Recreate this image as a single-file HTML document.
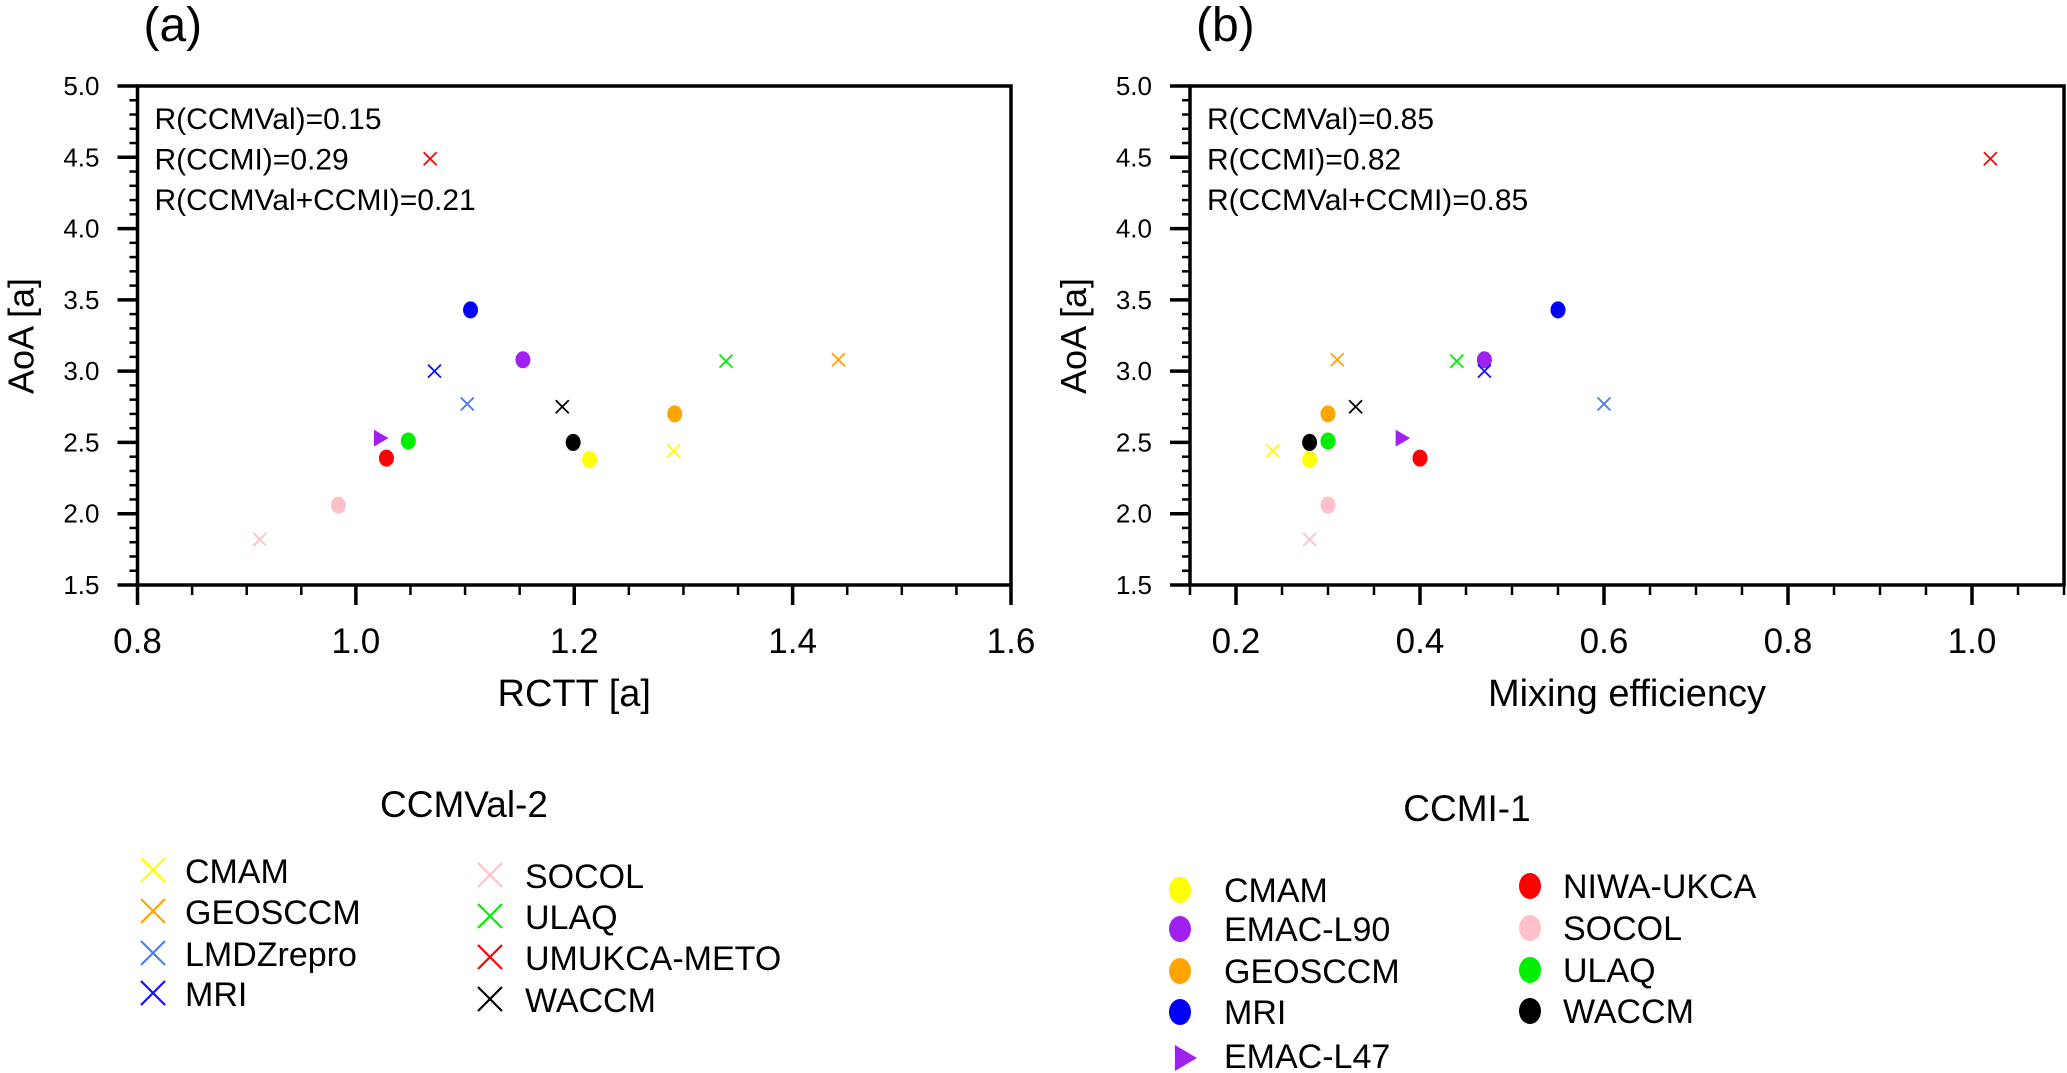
<!DOCTYPE html>
<html><head><meta charset="utf-8">
<style>
html,body{margin:0;padding:0;background:#fff;}
svg{display:block;font-family:"Liberation Sans",sans-serif;}
</style></head>
<body>
<svg id="fig" width="2067" height="1073" viewBox="0 0 2067 1073" xmlns="http://www.w3.org/2000/svg"></svg>
<script>
// ---- data ----
const cvModels = ["CMAM","GEOSCCM","LMDZrepro","MRI","SOCOL","ULAQ","UMUKCA-METO","WACCM"];
const cvColors = ["#ffff00","#ffa500","#4f7fe8","#1010ff","#ffc0cb","#00ee00","#ff0000","#000000"];
const cvAoA = [2.44,3.08,2.77,3.00,1.82,3.07,4.49,2.75];
const cvRCTT = [1.291,1.442,1.102,1.072,0.912,1.339,1.068,1.189];
const cvMix = [0.24,0.31,0.60,0.47,0.28,0.44,1.02,0.33];

const ciModels = ["CMAM","EMAC-L90","GEOSCCM","MRI","EMAC-L47","NIWA-UKCA","SOCOL","ULAQ","WACCM"];
const ciColors = ["#ffff00","#a020f0","#ffa500","#0000ff","#a020f0","#ff0000","#ffc0cb","#00ee00","#000000"];
const ciAoA = [2.38,3.08,2.70,3.43,2.53,2.39,2.06,2.51,2.50];
const ciRCTT = [1.214,1.153,1.292,1.105,1.022,1.028,0.984,1.048,1.199];
const ciMix = [0.28,0.47,0.30,0.55,0.38,0.40,0.30,0.30,0.28];

const yTicks = ["1.5","2.0","2.5","3.0","3.5","4.0","4.5","5.0"];
const xTicksA = ["0.8","1.0","1.2","1.4","1.6"];
const xTicksB = ["0.2","0.4","0.6","0.8","1.0"];
const annotA = ["R(CCMVal)=0.15","R(CCMI)=0.29","R(CCMVal+CCMI)=0.21"];
const annotB = ["R(CCMVal)=0.85","R(CCMI)=0.82","R(CCMVal+CCMI)=0.85"];

const NS="http://www.w3.org/2000/svg";
const svg=document.getElementById('fig');
function mk(tag,attrs,parent){const e=document.createElementNS(NS,tag);for(const k in attrs)e.setAttribute(k,attrs[k]);(parent||svg).appendChild(e);return e;}

function cross(g,cx,cy,s,color,w){
  return mk('path',{d:`M${cx-s} ${cy-s}L${cx+s} ${cy+s}M${cx-s} ${cy+s}L${cx+s} ${cy-s}`,stroke:color,'stroke-width':w,fill:'none'},g);
}
function tri(g,cx,cy,s,color){
  return mk('path',{d:`M${cx-s*0.7} ${cy-s}L${cx+s} ${cy}L${cx-s*0.7} ${cy+s}Z`,fill:color},g);
}

function panel(opt){
  const {L,R,T,B,xmin,xmax,xTicks,minorStep,label,xTitle,annot,cvX,ciX,name}=opt;
  const g=mk('g',{});
  
  
  const xs=v=>L+(v-xmin)/(xmax-xmin)*(R-L);
  const ys=v=>B-(v-1.5)/3.5*(B-T);
  for(let i=0;i<=35;i++){
    const v=1.5+i*0.1, y=ys(v);
    const major=i%5===0;
    mk('line',{x1:major?L-20:L-8,x2:L,y1:y,y2:y,stroke:'#000','stroke-width':major?3.5:2.5},g);
  }
  const nMin=Math.round((xmax-xmin)/minorStep);
  for(let i=0;i<=nMin;i++){
    const v=xmin+i*minorStep, x=xs(v);
    const major=Math.abs(Math.round(v*10)/10-v)<1e-6 && Math.round(v*10)%2===0;
    mk('line',{x1:x,x2:x,y1:B,y2:major?B+20:B+10,stroke:'#000','stroke-width':major?3.5:2.5},g);
  }
  const fr=mk('rect',{x:L,y:T,width:R-L,height:B-T,fill:'none',stroke:'#000','stroke-width':3.5},g);
  
  
  yTicks.forEach(t=>{
    const e=mk('text',{x:L-38,y:ys(parseFloat(t))+9,'text-anchor':'end','font-size':26},g);
    e.textContent=t;
    
    
  });
  xTicks.forEach(t=>{
    const e=mk('text',{x:xs(parseFloat(t)),y:653,'text-anchor':'middle','font-size':35},g);
    e.textContent=t;
    
    
  });
  const yt=mk('text',{x:0,y:0,'text-anchor':'middle','font-size':36,transform:`translate(${L-104},336) rotate(-90)`},g);
  yt.textContent='AoA [a]';
  
  
  const xt=mk('text',{x:(L+R)/2,y:706,'text-anchor':'middle','font-size':38},g);
  xt.textContent=xTitle;
  
  
  const pl=mk('text',{x:L+6,y:41,'font-size':48},g);
  pl.textContent=label;
  
  
  annot.forEach((t,i)=>{
    const e=mk('text',{x:L+17,y:129+i*40.5,'font-size':30},g);
    e.textContent=t;
    
    
  });
  ciModels.forEach((m,i)=>{
    const cx=xs(ciX[i]), cy=ys(ciAoA[i]);
    let e;
    if(m==='EMAC-L47') e=tri(g,cx,cy,8.5,ciColors[i]);
    else e=mk('ellipse',{cx:cx,cy:cy,rx:7.5,ry:8.5,fill:ciColors[i]},g);
    
    
  });
  cvModels.forEach((m,i)=>{
    const e=cross(g,xs(cvX[i]),ys(cvAoA[i]),6.5,cvColors[i],1.8);
    
    
  });
}

panel({L:137.5,R:1011,T:86,B:585,xmin:0.8,xmax:1.6,xTicks:xTicksA,minorStep:0.05,label:'(a)',xTitle:'RCTT [a]',annot:annotA,cvX:cvRCTT,ciX:ciRCTT,name:'panel-a-rctt'});
panel({L:1190,R:2064,T:86,B:585,xmin:0.15,xmax:1.1,xTicks:xTicksB,minorStep:0.05,label:'(b)',xTitle:'Mixing efficiency',annot:annotB,cvX:cvMix,ciX:ciMix,name:'panel-b-mixing'});

// ---- legends ----
const lg1=mk('g',{});


let t=mk('text',{x:464,y:817,'text-anchor':'middle','font-size':37},lg1);
t.textContent='CCMVal-2';


const cvBase=[883,924,966,1006,888,929,970,1012];
cvModels.forEach((m,i)=>{
  const col=i<4?0:1;
  const mx=col?490:153, tx=col?525:185, by=cvBase[i];
  const c=cross(lg1,mx,by-13,12,cvColors[i],2.2);
  
  
  const e=mk('text',{x:tx,y:by,'font-size':34},lg1);
  e.textContent=m;
  
  
});

const lg2=mk('g',{});


t=mk('text',{x:1467,y:821,'text-anchor':'middle','font-size':37},lg2);
t.textContent='CCMI-1';


const ciCenter=[890,929,971,1012,1056,886,928,970,1011];
ciModels.forEach((m,i)=>{
  const col=i<5?0:1;
  const mx=col?1530:1180, tx=col?1563:1224, cy=ciCenter[i];
  let c;
  if(m==='EMAC-L47') c=tri(lg2,mx+4,cy+2,13,ciColors[i]);
  else c=mk('ellipse',{cx:mx,cy:cy,rx:11,ry:13,fill:ciColors[i]},lg2);
  
  
  const e=mk('text',{x:tx,y:cy+12,'font-size':34},lg2);
  e.textContent=m;
  
  
});
</script>
</body></html>
